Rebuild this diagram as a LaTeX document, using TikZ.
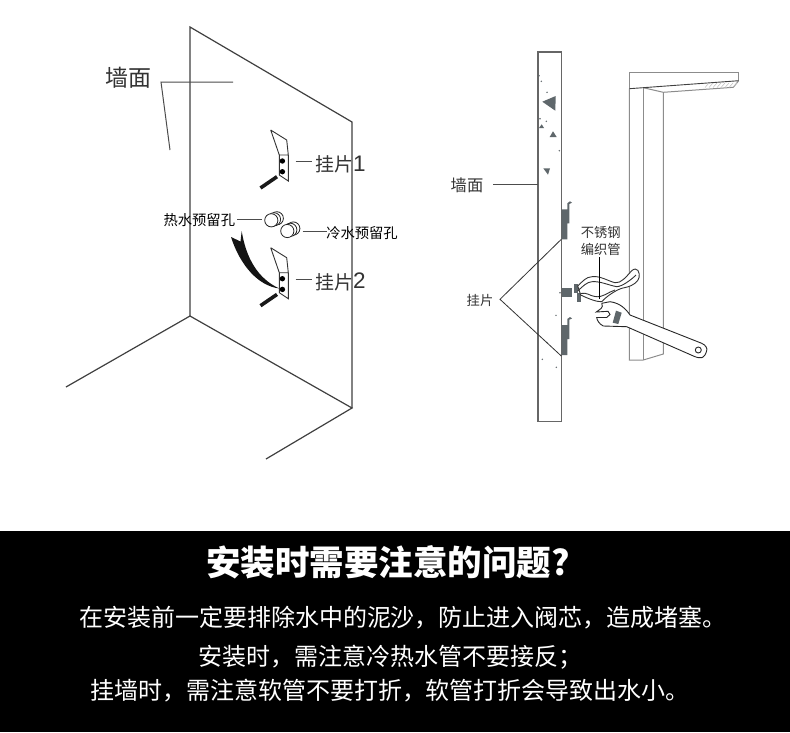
\documentclass[tikz,border=0pt]{standalone}
\usepackage{fontspec}
\setmainfont{Noto Sans CJK SC}
\newfontfamily\ltn{Liberation Sans}
\definecolor{slate}{HTML}{5F676B}
\tikzset{
 wall/.style={draw=black!75,line width=1.2pt},
 rwall/.style={draw=black!60,line width=1.3pt},
 lead/.style={draw=black!70,line width=1pt},
 thin/.style={draw=black!45,line width=1pt},
 lab/.style={inner sep=0pt,text=black!80},
 ink/.style={inner sep=0pt,text=black},
 ring/.style={draw=black!85,line width=.8pt,fill=white},
 wh/.style={inner sep=0pt,text=white},
 hose/.style={draw=black!80,line width=.9pt,fill=white},
}
\newcommand{\sz}[1]{\fontsize{#1}{#1}\selectfont}
\begin{document}
\begin{tikzpicture}[x=1pt,y=-1pt]
\useasboundingbox (0,0) rectangle (790,732);
\fill[white] (0,0) rectangle (790,732);
% left wall
\draw[wall] (66,387)--(190,316)--(352,408)--(266,459);
\draw[wall] (190,316)--(190,27)--(352,122)--(352,408);
\node[lab,font=\sz{23}] (wm) at (128,78) {墙面};
\draw[lead] (233,82)--(161,82)--(170,150);
% hangers on the wall
\foreach \dy/\nm in {0/1,117.7/2}{
\begin{scope}[yshift=-\dy pt]
\draw[line width=.9pt,black!80,fill=white] (270.7,130)--(286.7,140)--(288.3,155)--(279.3,155)--(279.3,175)--(288.3,181)--(288.3,155) (279.3,155)--(270.7,130);
\fill[black] (282.4,161) circle (2.7) (282.4,171.7) circle (2.7);
\draw[line width=3.6pt,black!90] (277,176.7)--(260.5,188);
\draw[lead] (295.7,161.7)--(312.3,161.7);
\end{scope}
}
\node[lab,anchor=west,font=\sz{19}] (g1) at (315,164.5) {挂片};
\node[lab,anchor=west,font=\ltn\sz{22.5}] at (353,163.5) {1};
\node[lab,anchor=west,font=\sz{19}] (g2) at (315,282) {挂片};
\node[lab,anchor=west,font=\ltn\sz{22.5}] at (353,281) {2};
% holes
\foreach \x/\y in {276.8/218.3,274/219.3,271.3/220.3,293.3/228.5,290.3/229.8,287.3/231}{
 \draw[ring] (\x,\y) circle (6.6);
}
\draw[lead] (237.3,219.3)--(262.3,219.3);
\draw[lead] (302.7,231.7)--(326.7,231.7);
\node[ink,font=\sz{14.3}] (hot) at (199.3,220) {热水预留孔};
\node[ink,font=\sz{14.3}] (cold) at (362,233.5) {冷水预留孔};
% swoosh
\fill[black!92] (231,237)--(240.5,241.5)--(241.7,231) .. controls (246,258) and (258,279) .. (279.5,288.5) .. controls (258,286) and (240,265) .. cycle;
% right wall
\draw[rwall] (538,52) rectangle (561.3,421.7);
\foreach \a/\b/\c in {{542.3,101.7}/{555.7,96}/{555.3,110.7},{541.7,124.3}/{539,128}/{544,128},{553,131.3}/{549.7,137}/{556.7,137},{543.3,168.3}/{550,168.3}/{548,174.7}}{
 \fill[slate] (\a)--(\b)--(\c)--cycle;
}
\foreach \p in {{539,75.7},{541.3,81.3},{547,92.3},{540,118.7},{546.3,121.3},{559.3,150.7},{556,315.3},{546.7,342.3},{542.3,359.3},{556.3,367.3},{560,292.7}}{
 \fill[slate] (\p) circle (.8);
}
\node[lab,font=\sz{16.3}] (wm2) at (467,185) {墙面};
\draw[lead] (493.3,184)--(538,184);
\node[lab,font=\sz{13.3}] (gp) at (480,300) {挂片};
\draw[black!80,line width=.8pt] (561.3,239.3)--(500,299.3)--(561.3,356);
% hangers on the right wall
\foreach \dy in {0,115.7}{
\begin{scope}[yshift=-\dy pt]
\fill[slate] (561.7,209.3)--(567.3,209.3)--(567.3,203.3)--(570,201.3)--(572,202.7)--(569.3,204)--(569.3,223.3)--(567.3,223.3)--(567.3,239.3)--(561.7,239.3)--cycle;
\end{scope}
}
% column
\draw[thin] (629.3,88.7)--(629.3,72.3)--(738.7,72.3)--(738.7,80.7);
\draw[thin] (738.7,80.7)--(733.3,87.3)--(663.3,92.3)--(643.3,87.7);
\draw[draw=black!75,line width=.9pt] (629.3,88.7)--(738.7,80.7);
\foreach \x in {705,709,713,717,721,725,729,733}{
 \draw[black!25,line width=.5pt] (\x,87.5)--(\x+4,83);
}
\draw[thin] (629.3,88.7)--(629.3,360)--(643.3,360)--(663.3,354)--(663.3,92.3);
\draw[thin] (643.3,87.7)--(643.3,360);
% wrench
\draw[draw=black!85,line width=.9pt,fill=white] (601.7,303.3)--(610,301.7) .. controls (620,303) and (626,309) .. (630,315) -- (701.7,343.3) .. controls (706,345) and (707.5,349) .. (706.7,350.5) .. controls (706,354) and (704,357) .. (701.7,357.7) .. controls (699,358) and (697,357.5) .. (695,356.7) -- (626.7,326.7) -- (603.3,326) .. controls (599,324) and (597,320) .. (596.7,317.5) -- (606.7,317.5) -- (610,314.5) -- (608,311.3) -- (596.3,312) .. controls (600,309) and (604,308) .. (601.7,303.3);
\fill[slate] (616,310.7)--(621.7,312.7)--(618.3,324)--(612.7,322.7)--cycle;
\draw[black!85,line width=.9pt,fill=white] (698.3,350) circle (3);
% fittings
\fill[slate] (561.7,287.7) rectangle (572.3,296.7);
\fill[slate] (574,284) rectangle (577.7,293.3);
\fill[slate] (577.3,293.3) rectangle (580.7,301.7);
% hoses
\draw[hose] (577.7,286) .. controls (583,281) and (586,277) .. (592,276.7) .. controls (600,275.5) and (608,281) .. (615,282.7) .. controls (621,283.5) and (626,277) .. (631.7,270.7) .. controls (634,268.5) and (637,268.5) .. (638,270.5) .. controls (640.5,275) and (639.5,280) .. (635,283.3) .. controls (630,287) and (625,287.5) .. (621.7,288.3) .. controls (614,291) and (606,297) .. (601.7,301.7) .. controls (597,302) and (589,299) .. (580.7,295) -- cycle;
\draw[black!80,line width=.9pt] (577.7,291) .. controls (583,286) and (587,282) .. (592,281.7) .. controls (600,281) and (608,285) .. (616.7,286.7) .. controls (622,286.5) and (631,280) .. (636,275);
\draw[black!80,line width=.9pt] (580.7,293.5) .. controls (587,292) and (590,296) .. (595,296.5) .. controls (603,298) and (608,292) .. (615,290);
\draw[black,line width=1.2pt] (599.3,257.3)--(599.3,299.3);
\node[lab,font=\sz{13.3}] (b1) at (600.7,232) {不锈钢};
\node[lab,font=\sz{13.3}] (b2) at (600.7,249.3) {编织管};
% band
\fill[black] (0,531) rectangle (790,732);
\node[wh,font=\bfseries\sz{34.5}] (t) at (388,562) {安装时需要注意的问题?};
\node[wh,font=\sz{24}] (l1) at (403,617.5) {在安装前一定要排除水中的泥沙，防止进入阀芯，造成堵塞。};
\node[wh,font=\sz{24}] (l2) at (390,657.5) {安装时，需注意冷热水管不要接反；};
\node[wh,font=\sz{24}] (l3) at (390,690.5) {挂墙时，需注意软管不要打折，软管打折会导致出水小。};
\end{tikzpicture}
\end{document}
